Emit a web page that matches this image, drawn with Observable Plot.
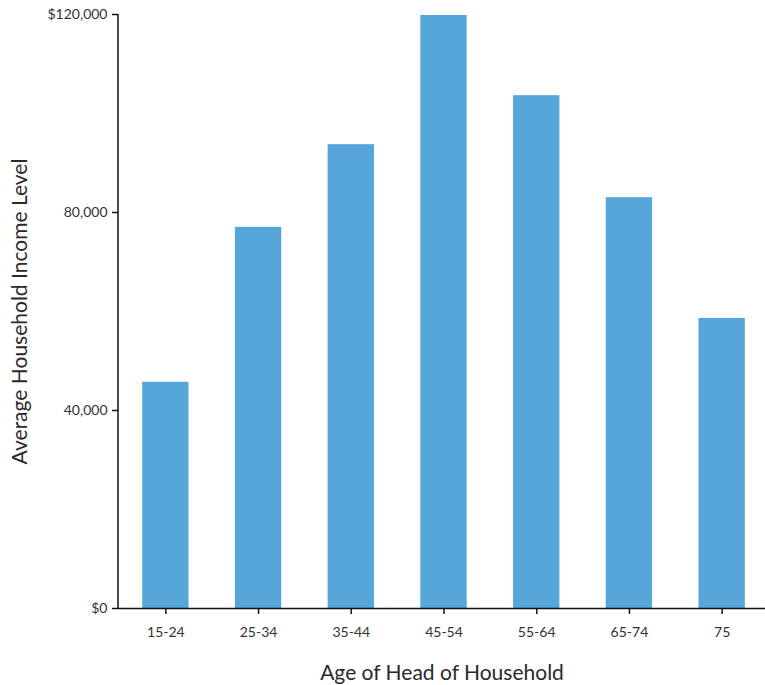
<!DOCTYPE html>
<html>
<head>
<meta charset="utf-8">
<script src="https://cdn.jsdelivr.net/npm/d3@7"></script>
<script src="https://cdn.jsdelivr.net/npm/@observablehq/plot@0.6"></script>
<style>
  html, body { margin: 0; padding: 0; background: #fff; }
  #chart svg { display: block; }
</style>
</head>
<body>
<div id="chart"></div>
<script>
const ageGroups = ["15-24", "25-34", "35-44", "45-54", "55-64", "65-74", "75"];
const avgIncome = [45700, 77000, 93700, 119800, 103600, 83000, 58600];
const yTicks = [0, 40000, 80000, 120000];
const yTickLabels = ["$0", "40,000", "80,000", "$120,000"];

const data = ageGroups.map((age, i) => ({age, income: avgIncome[i]}));

// custom mark: vertical y-axis line along the left edge of the frame
const yAxisLine = (index, scales, values, dims) => {
  const line = document.createElementNS("http://www.w3.org/2000/svg", "line");
  line.setAttribute("x1", dims.marginLeft);
  line.setAttribute("x2", dims.marginLeft);
  line.setAttribute("y1", scales.y(yTicks[yTicks.length - 1]));
  line.setAttribute("y2", scales.y(0));
  line.setAttribute("stroke", "#111");
  line.setAttribute("stroke-width", 1.5);
  return line;
};

const chart = Plot.plot({
  width: 765,
  height: 685,
  marginLeft: 118,
  marginRight: 0,
  marginTop: 14,
  marginBottom: 77,
  style: {fontFamily: "Lato, 'Open Sans', sans-serif", fontSize: "14px", color: "#333", background: "#fff"},
  x: {domain: ageGroups, range: [119, 768], paddingInner: 0.5, paddingOuter: 0.25, round: false},
  y: {domain: [0, 120000]},
  marks: [
    Plot.barY(data, {x: "age", y: "income", fill: "#56a6d9"}),
    Plot.axisY({
      ticks: yTicks,
      tickFormat: (d) => yTickLabels[yTicks.indexOf(d)],
      tickSize: 6,
      tickPadding: 5,
      stroke: "#111",
      strokeWidth: 1.5,
      fontSize: 14,
      fill: "#333",
      label: "Average Household Income Level",
      labelAnchor: "center",
      labelArrow: "none",
      labelOffset: 106
    }),
    Plot.axisX({
      tickSize: 6,
      tickPadding: 13,
      stroke: "#111",
      strokeWidth: 1.5,
      fontSize: 14,
      fill: "#333",
      label: "Age of Head of Household",
      labelAnchor: "center",
      labelArrow: "none",
      labelOffset: 71
    }),
    Plot.ruleY([0], {stroke: "#111", strokeWidth: 1.5}),
    yAxisLine
  ]
});

chart.querySelectorAll("[aria-label='y-axis label'] text, [aria-label='x-axis label'] text").forEach(t => {
  t.setAttribute("font-size", "21");
  t.setAttribute("fill", "#2a2a2a");
});

document.getElementById("chart").appendChild(chart);
</script>
</body>
</html>
